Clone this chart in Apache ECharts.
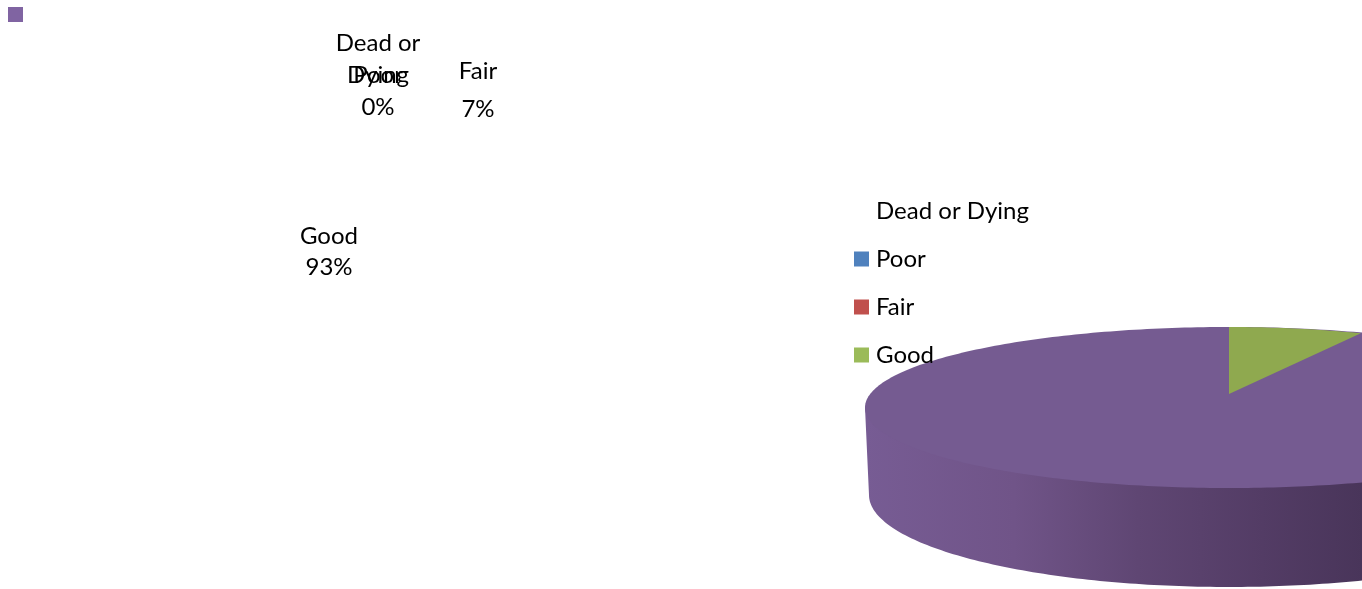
<!DOCTYPE html>
<html>
<head>
<meta charset="utf-8">
<style>html,body{margin:0;padding:0;background:#fff}#c{width:1362px;height:589px}</style>
<script src="https://cdn.jsdelivr.net/npm/echarts@6/dist/echarts.min.js"></script>
</head>
<body>
<div id="c"></div>
<script>
// ---- data ----
var categories = ['Dead or Dying', 'Poor', 'Fair', 'Good'];
var values = [0, 0, 7, 93];
// ---- style ----
var FONT = 'Lato';
var faceColors = ['#4F81BD', '#C0504D', '#8FA94F', '#755B91'];
var legendColors = ['rgba(0,0,0,0)', '#4F81BD', '#C0504D', '#9BBB59'];
var labelText = ['Dead or\nDying', 'Poor\n{d}%', 'Fair\n{d}%', 'Good\n{d}%'];
var labelLineHeights = [32, 32, 38, 31];
var labelAnchors = [[378, 59], [378, 91], [478, 90], [329, 252]];
// 3D disc layout
var FACE = {cx: 1229, cy: 407.5, rx: 364, ry: 80.5};
var MINOR = {cx: 1229, cy: 394, rx: 312, ry: 67};
var WALL = {cx: 1229, cy: 495, rx: 360, ry: 92};

var total = values.reduce(function (a, b) { return a + b; }, 0);
var largest = values.indexOf(Math.max.apply(null, values));

function arcPts(e, fromDeg, toDeg) {
  var pts = [];
  for (var d = fromDeg; d <= toDeg + 1e-6; d += 1) {
    var a = d * Math.PI / 180;
    pts.push([e.cx + e.rx * Math.sin(a), e.cy - e.ry * Math.cos(a)]);
  }
  return pts;
}

function renderSlice(params, api) {
  var i = api.value(0), v = api.value(1);
  if (!v) return null;
  var start = 0;
  for (var k = 0; k < i; k++) start += values[k];
  var a0 = start / total * 360, a1 = a0 + v / total * 360;
  if (i === largest) {
    var wallPts = [[FACE.cx - FACE.rx, FACE.cy]].concat(arcPts(WALL, 90, 270).reverse());
    wallPts.push([FACE.cx + FACE.rx, FACE.cy]);
    return {
      type: 'group',
      children: [
        {
          type: 'polygon', z2: 1,
          shape: {points: wallPts},
          style: {
            fill: new echarts.graphic.LinearGradient(865, 0, 1362, 0, [
              {offset: 0, color: '#775C94'},
              {offset: 0.3, color: '#705488'},
              {offset: 0.55, color: '#5F4673'},
              {offset: 0.8, color: '#533C65'},
              {offset: 1, color: '#49355A'}
            ], true)
          }
        },
        {
          // the largest slice fills the whole face; smaller slices sit on top of it
          type: 'polygon', z2: 2,
          shape: {points: arcPts(FACE, 0, 360)},
          style: {fill: faceColors[i]}
        }
      ]
    };
  }
  return {
    type: 'polygon', z2: 3,
    shape: {points: [[MINOR.cx, MINOR.cy]].concat(arcPts(MINOR, a0, a1))},
    style: {fill: faceColors[i]}
  };
}

var chart = echarts.init(document.getElementById('c'), null, {renderer: 'canvas'});
chart.setOption({
  animation: false,
  backgroundColor: '#ffffff',
  legend: {
    orient: 'vertical',
    left: 849,
    top: 194,
    itemWidth: 15,
    itemHeight: 15,
    itemGap: 24,
    icon: 'rect',
    selectedMode: false,
    textStyle: {fontFamily: FONT, fontSize: 24, color: '#000', padding: [0, 0, 0, 2]},
    data: categories.map(function (n, i) {
      return {name: n, itemStyle: {color: legendColors[i], borderWidth: 0}};
    })
  },
  graphic: [{
    type: 'rect', silent: true,
    shape: {x: 8, y: 7, width: 15, height: 15},
    style: {fill: '#8064A2'}
  }],
  series: [
    {
      type: 'custom',
      name: 'Disc',
      coordinateSystem: 'none',
      silent: true,
      clip: false,
      renderItem: renderSlice,
      data: categories.map(function (n, i) { return [i, values[i]]; })
    },
    {
      type: 'pie',
      name: 'Condition',
      center: [420, 170],
      radius: 100,
      silent: true,
      startAngle: 90,
      clockwise: true,
      itemStyle: {color: 'rgba(0,0,0,0)'},
      labelLine: {show: false},
      avoidLabelOverlap: false,
      labelLayout: function (p) {
        var a = labelAnchors[p.dataIndex];
        return {x: a[0], y: a[1], align: 'center', verticalAlign: 'middle', hideOverlap: false};
      },
      data: categories.map(function (n, i) {
        return {
          name: n, value: values[i],
          label: {
            show: true, position: 'outside',
            formatter: labelText[i],
            fontFamily: FONT, fontSize: 24, color: '#000',
            lineHeight: labelLineHeights[i], align: 'center'
          }
        };
      })
    }
  ]
});
</script>
</body>
</html>
